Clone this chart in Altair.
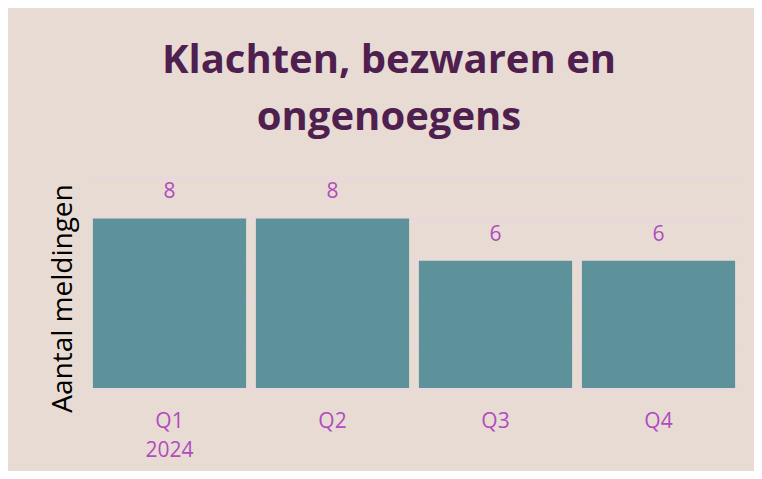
import altair as alt
import pandas as pd

quarters = ["Q1", "Q2", "Q3", "Q4"]
counts = [8, 8, 6, 6]
year_label = "2024"
title_lines = ["Klachten, bezwaren en", "ongenoegens"]
y_title = "Aantal meldingen"

df = pd.DataFrame({"kwartaal": quarters, "aantal": counts})

BG = "#e8dbd3"
BAR = "#5e929b"
PURPLE = "#b04cc0"
TITLE = "#4f1f50"
GRID = "#ebd3e8"
FONT = "Open Sans"

label_expr = f"datum.label == '{quarters[0]}' ? [datum.label, '{year_label}'] : datum.label"

x = alt.X(
    "kwartaal:N",
    sort=quarters,
    scale=alt.Scale(paddingInner=0.06, paddingOuter=0.03),
    axis=alt.Axis(
        title=None, labelAngle=0, labelFont=FONT, labelFontSize=21,
        labelColor=PURPLE, labelPadding=22, labelLineHeight=29,
        labelExpr=label_expr,
        ticks=False, domain=False, grid=False,
    ),
)
y = alt.Y(
    "aantal:Q",
    scale=alt.Scale(domain=[0, 10]),
    axis=alt.Axis(
        title=y_title, values=[0, 2, 4, 6, 8, 10], labels=False, ticks=False,
        domain=False, grid=True, gridColor=GRID, gridWidth=1.5,
        titleFont=FONT, titleFontSize=28, titleFontWeight="normal",
        titleColor="black", titleX=-17, titleY=122, titleAlign="center",
        titleBaseline="alphabetic", titleAngle=270,
    ),
)

bars = alt.Chart(df).mark_bar(color=BAR).encode(x=x, y=y)
texts = alt.Chart(df).mark_text(
    dy=-26, baseline="middle", font=FONT, fontSize=21, color=PURPLE
).encode(x=alt.X("kwartaal:N", sort=quarters), y="aantal:Q", text="aantal:Q")

chart = (
    alt.layer(bars, texts)
    .properties(
        width=652,
        height=212,
        background=BG,
        autosize=alt.AutoSizeParams(type="none"),
        padding={"left": 80, "top": 168, "right": 14, "bottom": 83},
        title=alt.TitleParams(
            text=title_lines, font=FONT, fontSize=40, fontWeight="bold",
            color=TITLE, anchor="middle", dx=-25, offset=38, lineHeight=57,
        ),
    )
    .configure_view(stroke=None)
)

chart.save("out.html", embed_options={"renderer": "svg", "actions": False})
